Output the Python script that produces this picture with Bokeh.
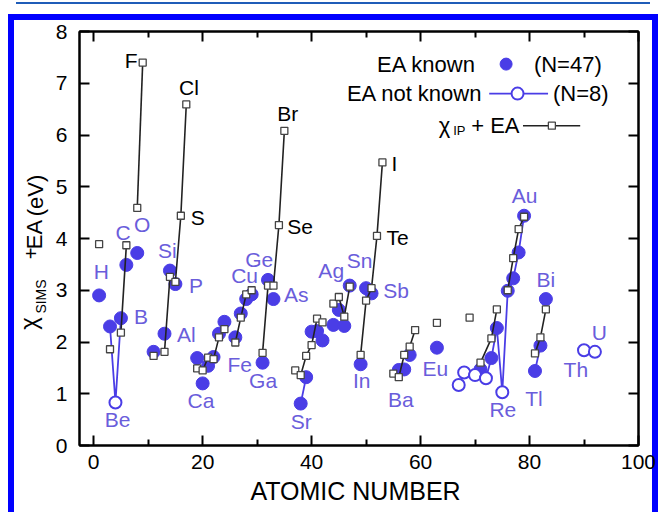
import math
from bokeh.plotting import figure
from bokeh.models import (Range1d, LinearAxis, FixedTicker, Label, ColumnDataSource,
                          CustomJSTickFormatter)
from bokeh.layouts import row
from bokeh.embed import file_html
from bokeh.resources import INLINE
from bokeh.core.properties import value

# ---------------- data ----------------
# chi_SIMS + EA, EA known (filled blue dots)
KNOWN_Z = [1, 3, 5, 6, 8, 11, 13, 14, 15, 19, 20, 21, 22, 23, 24, 26, 27, 28, 29, 31, 32, 33,
           38, 39, 40, 41, 42, 44, 45, 46, 47, 49, 50, 51, 56, 57, 58, 63, 71, 73, 74,
           76, 77, 78, 79, 81, 82, 83]
KNOWN_V = [2.90, 2.30, 2.46, 3.49, 3.72, 1.81, 2.16, 3.38, 3.12, 1.69, 1.20, 1.54, 1.71, 2.16,
           2.39, 2.09, 2.55, 2.83, 2.92, 1.60, 3.20, 2.83, 0.81, 1.32, 2.20, 2.21, 2.03, 2.33,
           2.62, 2.31, 3.09, 1.57, 3.04, 2.94, 1.46, 1.47, 1.75, 1.89, 1.47, 1.69, 2.27,
           2.99, 3.23, 3.73, 4.44, 1.44, 1.93, 2.83]

# chi_SIMS + EA, EA not known (open circles)
UNKNOWN_Z = [4, 67, 68, 70, 72, 75, 90, 92]
UNKNOWN_V = [0.83, 1.17, 1.41, 1.36, 1.30, 1.03, 1.84, 1.81]

# chi_IP + EA (small open squares)
IP_Z = [1, 3, 5, 6, 8, 9, 11, 13, 14, 15, 16, 17, 19, 20, 21, 22, 23, 24, 26, 27, 28, 29,
        31, 32, 33, 34, 35, 37, 38, 39, 40, 41, 42, 44, 45, 46, 47, 49, 50, 51, 52, 53,
        55, 56, 57, 58, 59, 63, 69, 71, 73, 74, 76, 77, 78, 79, 81, 82, 83]
IP_V = [3.89, 1.86, 2.18, 3.87, 4.59, 7.40, 1.73, 1.81, 3.26, 3.16, 4.44, 6.59, 1.49, 1.45,
        1.70, 1.67, 2.09, 2.25, 1.99, 2.47, 2.92, 3.00, 1.79, 3.09, 3.09, 4.26, 6.08, 1.45,
        1.36, 1.73, 1.94, 2.45, 2.38, 2.74, 2.87, 2.49, 3.07, 1.75, 2.80, 3.04, 4.05, 5.47,
        1.39, 1.32, 1.75, 1.91, 2.23, 2.37, 2.47, 1.60, 2.07, 2.63, 3.00, 3.62, 4.18, 4.42,
        1.78, 2.09, 2.63]

# connected runs (atomic numbers)
IP_LINE_GROUPS = [[5, 6], [8, 9], [13, 14, 15, 16, 17], [19, 20, 21, 22, 23, 24],
                  [26, 27, 28, 29], [31, 32, 33, 34, 35], [37, 38, 39, 40, 41, 42],
                  [44, 45, 46, 47], [49, 50, 51, 52, 53], [55, 56, 57, 58, 59],
                  [71, 73, 74], [76, 77, 78, 79], [81, 82, 83]]
SIMS_LINE_GROUPS = [[3, 4, 5], [38, 39],
                    [67, 68, 70, 71, 72, 73, 74, 75, 76, 77, 78, 79], [81, 82]]

# element labels (text, x, y)
BLUE_LABELS = [("H", 1.4, 3.36), ("C", 5.4, 4.12), ("O", 8.9, 4.28), ("B", 8.7, 2.50),
               ("Be", 4.4, 0.51), ("Si", 13.5, 3.76), ("P", 18.8, 3.09), ("Al", 17.0, 2.15),
               ("Ca", 19.7, 0.86), ("Fe", 26.8, 1.57), ("Cu", 27.7, 3.28), ("Ge", 30.4, 3.60),
               ("Ga", 31.1, 1.25), ("As", 37.2, 2.92), ("Sr", 38.1, 0.47), ("Ag", 43.6, 3.38),
               ("Sn", 48.8, 3.57), ("Sb", 55.5, 2.99), ("In", 49.2, 1.25), ("Ba", 56.4, 0.89),
               ("Eu", 62.7, 1.49), ("Re", 75.1, 0.70), ("Au", 79.1, 4.83), ("Bi", 83.0, 3.21),
               ("Tl", 80.8, 0.90), ("Th", 88.5, 1.47), ("U", 92.8, 2.18)]
BLACK_LABELS = [("F", 6.9, 7.44), ("Cl", 17.5, 6.92), ("S", 19.1, 4.41), ("Br", 35.6, 6.41),
                ("Se", 37.9, 4.23), ("I", 55.2, 5.44), ("Te", 55.8, 4.02)]

X_TICKS = [0, 20, 40, 60, 80, 100]
X_MINOR = [10, 30, 50, 70, 90]
Y_TICKS = [0, 1, 2, 3, 4, 5, 6, 7, 8]

# ---------------- styles ----------------
BLUE = "#4a3de6"
LABEL_BLUE = "#6a5ddb"
SQ_LINE = "#444444"
FONT = "Liberation Sans"
FRAME_BLUE = "#0000ff"
THIN_BLUE = "#1f5cb8"

PAGE_W, PAGE_H = 658, 512
STRIP_W = 50                      # strip that carries the rotated y title
PLOT_W = PAGE_W - STRIP_W
FRAME_TOP, FRAME_BOTTOM = 31, 445  # page pixels of the plotting frame

PAGE_STYLES = {
    "background-color": "white",
    "background-image": (f"linear-gradient({THIN_BLUE},{THIN_BLUE}), "
                         f"linear-gradient({FRAME_BLUE},{FRAME_BLUE}), "
                         f"linear-gradient({FRAME_BLUE},{FRAME_BLUE}), "
                         f"linear-gradient({FRAME_BLUE},{FRAME_BLUE})"),
    "background-size": "634px 2px, calc(100% - 8px) 6px, 6px 100%, 6px 100%",
    "background-position": "16px 2px, 8px 14px, 8px 14px, right 0px top 14px",
    "background-repeat": "no-repeat",
}

p = figure(width=PLOT_W, height=PAGE_H, x_range=Range1d(-2.6, 100), y_range=Range1d(0, 8),
           output_backend="svg", toolbar_location=None, title=None,
           min_border_left=79 - STRIP_W, min_border_right=20, min_border_top=FRAME_TOP,
           min_border_bottom=PAGE_H - FRAME_BOTTOM)
p.background_fill_color = "white"
p.border_fill_color = None
p.grid.visible = False
p.outline_line_color = "black"
p.outline_line_width = 2


def style_axis(ax, labels=True):
    ax.major_tick_in = 10
    ax.major_tick_out = 0
    ax.minor_tick_in = 6
    ax.minor_tick_out = 0
    ax.axis_line_width = 2
    ax.major_tick_line_width = 2
    ax.minor_tick_line_width = 2
    ax.major_label_text_font = FONT
    ax.major_label_text_color = "black"
    if labels:
        ax.major_label_text_font_size = "21px"
    else:
        ax.formatter = CustomJSTickFormatter(code="return ''")
        ax.major_label_text_font_size = "1px"
        ax.major_label_standoff = 0


p.xaxis.ticker = FixedTicker(ticks=X_TICKS, minor_ticks=X_MINOR)
p.yaxis.ticker = FixedTicker(ticks=Y_TICKS, minor_ticks=[])
style_axis(p.xaxis[0])
style_axis(p.yaxis[0])
p.xaxis.major_label_standoff = 9
p.yaxis.major_label_standoff = 12
p.xaxis.axis_label = "ATOMIC  NUMBER"
p.xaxis.axis_label_text_font = FONT
p.xaxis.axis_label_text_font_size = "25px"
p.xaxis.axis_label_text_font_style = "normal"
p.xaxis.axis_label_text_color = "black"
p.xaxis.axis_label_standoff = 5

top_ax = LinearAxis(ticker=FixedTicker(ticks=X_TICKS, minor_ticks=X_MINOR))
style_axis(top_ax, labels=False)
p.add_layout(top_ax, "above")
right_ax = LinearAxis(ticker=FixedTicker(ticks=Y_TICKS, minor_ticks=[]))
style_axis(right_ax, labels=False)
p.add_layout(right_ax, "right")

sims = dict(zip(KNOWN_Z, KNOWN_V))
sims.update(dict(zip(UNKNOWN_Z, UNKNOWN_V)))
ip = dict(zip(IP_Z, IP_V))

# blue connecting lines
p.multi_line(xs=[g for g in SIMS_LINE_GROUPS], ys=[[sims[z] for z in g] for g in SIMS_LINE_GROUPS],
             line_color=BLUE, line_width=1.8)
# filled dots
p.scatter(KNOWN_Z, KNOWN_V, marker="circle", size=13, fill_color=BLUE, line_color=BLUE)
# open circles
p.scatter(UNKNOWN_Z, UNKNOWN_V, marker="circle", size=12, fill_color="white",
          line_color=BLUE, line_width=2)
# black connecting lines
p.multi_line(xs=[g for g in IP_LINE_GROUPS], ys=[[ip[z] for z in g] for g in IP_LINE_GROUPS],
             line_color="#222222", line_width=1.6)
# squares
p.scatter(IP_Z, IP_V, marker="square", size=7, fill_color="white", line_color=SQ_LINE,
          line_width=1.3)

# element labels
for labels, col in ((BLUE_LABELS, LABEL_BLUE), (BLACK_LABELS, "black")):
    src = ColumnDataSource(dict(x=[l[1] for l in labels], y=[l[2] for l in labels],
                                t=[l[0] for l in labels]))
    p.text(x="x", y="y", text="t", source=src, text_font=value(FONT),
           text_font_size=value("21px"), text_color=col, text_align="center",
           text_baseline="middle")

# ---------------- legend ----------------
LEG_Y = [7.37, 6.80, 6.18]


def lab(x, y, t, size="22px", align="right", color="black"):
    p.add_layout(Label(x=x, y=y, text=t, text_font=FONT, text_font_size=size,
                       text_color=color, text_align=align, text_baseline="middle"))


lab(70.2, LEG_Y[0], "EA known")
p.scatter([75.7], [LEG_Y[0]], marker="circle", size=12, fill_color=BLUE, line_color=BLUE)
lab(80.8, LEG_Y[0], "(N=47)", align="left")

lab(71.4, LEG_Y[1], "EA not known")
p.line([72.6, 83.4], [LEG_Y[1], LEG_Y[1]], line_color=BLUE, line_width=1.8)
p.scatter([77.8], [LEG_Y[1]], marker="circle", size=12, fill_color="white",
          line_color=BLUE, line_width=2)
lab(84.3, LEG_Y[1], "(N=8)", align="left")

lab(64.4, LEG_Y[2], "χ", align="center")
lab(66.0, LEG_Y[2] - 0.10, "IP", size="13px", align="left")
lab(69.3, LEG_Y[2], "+ EA", align="left")
p.line([78.8, 89.3], [LEG_Y[2], LEG_Y[2]], line_color="#222222", line_width=1.4)
p.scatter([84.1], [LEG_Y[2]], marker="square", size=7, fill_color="white",
          line_color=SQ_LINE, line_width=1.3)

# ---------------- strip with the rotated y title ----------------
# the strip's frame is aligned with the main frame, so its y range is set in page pixels
# (measured upward from the page bottom)
lf = figure(width=STRIP_W, height=PAGE_H, x_range=Range1d(0, STRIP_W),
            y_range=Range1d(PAGE_H - FRAME_BOTTOM, PAGE_H - FRAME_TOP),
            output_backend="svg", toolbar_location=None, title=None,
            x_axis_type=None, y_axis_type=None, min_border=0,
            min_border_top=FRAME_TOP, min_border_bottom=PAGE_H - FRAME_BOTTOM)
lf.grid.visible = False
lf.outline_line_color = None
lf.background_fill_color = None
lf.border_fill_color = None
YT_TEXT = ["χ", "SIMS", "+", "EA", "(eV)"]
YT_X = [28, 40, 30, 34, 35]
YT_Y = [189, 216, 259, 278, 317]
YT_SIZE = ["24px", "14px", "20px", "22px", "22px"]
for t, x, y, s in zip(YT_TEXT, YT_X, YT_Y, YT_SIZE):
    lf.text(x=[x], y=[y], text=[t], angle=math.pi / 2, text_font=value(FONT),
            text_font_size=value(s), text_color="black", text_align="center",
            text_baseline="middle")

layout = row(lf, p, spacing=0, styles=PAGE_STYLES)
open("out.html", "w").write(file_html(layout, INLINE))
